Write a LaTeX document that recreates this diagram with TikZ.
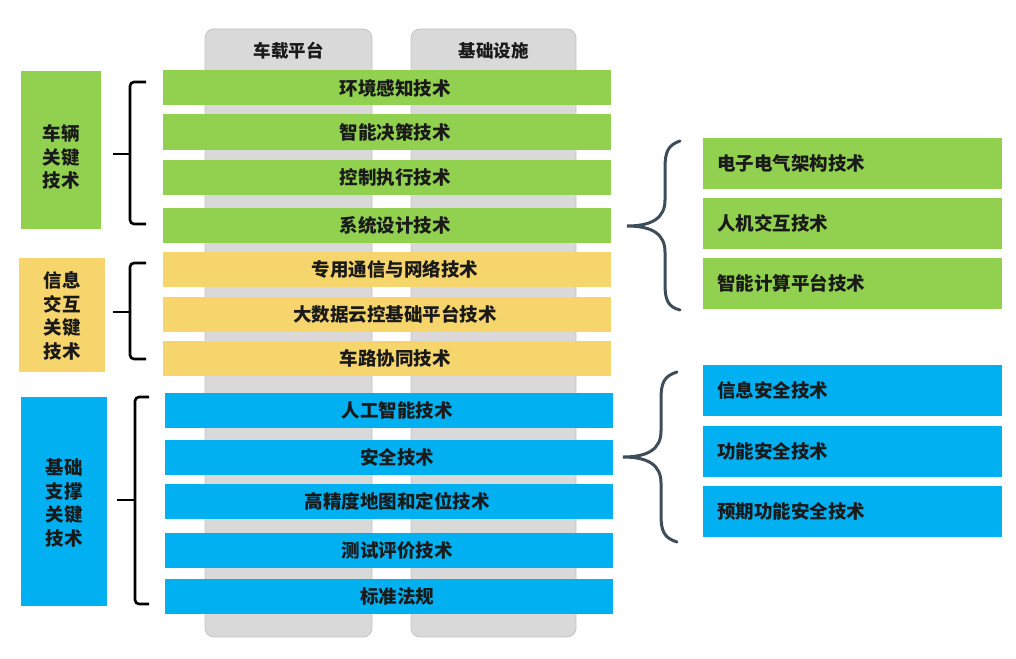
\documentclass[tikz,border=0pt]{standalone}
\usepackage{fontspec}
\setmainfont{Noto Sans CJK SC}
\begin{document}
\begin{tikzpicture}[x=1pt,y=-1pt,
  col/.style={draw=colbd,fill=colgray,rounded corners=9pt,line width=0.8pt},
  bar/.style={minimum width=448pt,minimum height=35pt,inner sep=0pt,font=\fontsize{18.5}{22}\selectfont\bfseries,text=txt,execute at begin node={\hspace*{16pt}}},
  side/.style={minimum width=299pt,minimum height=51pt,inner sep=0pt,font=\fontsize{18.5}{22}\selectfont\bfseries,text=txt},
  sidetxt/.style={anchor=west,inner sep=0pt,font=\fontsize{18.5}{22}\selectfont\bfseries,text=txt},
  lbox/.style={inner sep=0pt,font=\fontsize{18.5}{23.5}\selectfont\bfseries,text=txt,align=center},
  brk/.style={draw=black,line width=2.6pt,rounded corners=4pt},
  brace/.style={draw=bracec,line width=3pt,line cap=round}
]
\definecolor{colgray}{HTML}{D9D9D9}
\definecolor{colbd}{HTML}{C4C4C4}
\definecolor{cgreen}{HTML}{92D050}
\definecolor{cyellow}{HTML}{F6D56C}
\definecolor{cblue}{HTML}{00B0F0}
\definecolor{txt}{HTML}{1A1A1A}
\definecolor{bracec}{HTML}{3F4D5B}
\useasboundingbox (0,0) rectangle (1016,658);

% columns
\path[col] (205,29) rectangle (372,637);
\path[col] (411,29) rectangle (576,637);
\node[font=\fontsize{17.5}{20}\selectfont\bfseries,text=txt] (h1) at (288.5,51) {车载平台};
\node[font=\fontsize{17.5}{20}\selectfont\bfseries,text=txt] (h2) at (493.5,51) {基础设施};

% center bars
\node[bar,fill=cgreen] (b1) at (387,88) {环境感知技术};
\node[bar,fill=cgreen] (b2) at (387,132) {智能决策技术};
\node[bar,fill=cgreen] (b3) at (387,177.5) {控制执行技术};
\node[bar,fill=cgreen] (b4) at (387,225) {系统设计技术};
\node[bar,fill=cyellow] (b5) at (387,269.5) {专用通信与网络技术};
\node[bar,fill=cyellow] (b6) at (387,314.5) {大数据云控基础平台技术};
\node[bar,fill=cyellow] (b7) at (387,358.5) {车路协同技术};
\node[bar,fill=cblue] (b8) at (389,410) {人工智能技术};
\node[bar,fill=cblue] (b9) at (389,457.5) {安全技术};
\node[bar,fill=cblue] (b10) at (389,501.5) {高精度地图和定位技术};
\node[bar,fill=cblue] (b11) at (389,550.5) {测试评价技术};
\node[bar,fill=cblue] (b12) at (389,596) {标准法规};

% left boxes
\node[lbox,fill=cgreen,minimum width=80pt,minimum height=158pt] (L1) at (61,150) {};
\node[lbox] (L1t) at (61,157) {车辆\\关键\\技术};
\node[lbox,fill=cyellow,minimum width=86pt,minimum height=114pt] (L2) at (62,315) {};
\node[lbox] (L2t) at (62,316) {信息\\交互\\关键\\技术};
\node[lbox,fill=cblue,minimum width=86pt,minimum height=209pt] (L3) at (64,501.5) {};
\node[lbox] (L3t) at (64,503) {基础\\支撑\\关键\\技术};

% left brackets
\coordinate (k1a) at (146,82);
\coordinate (k1b) at (146,224);
\coordinate (k1m) at (113,154);
\draw[brk] (k1a) -| (130,224) -- (k1b);
\draw[brk] (k1m) -- (130,154);

\coordinate (k2a) at (146,263);
\coordinate (k2b) at (146,359);
\coordinate (k2m) at (113,312);
\draw[brk] (k2a) -| (130,359) -- (k2b);
\draw[brk] (k2m) -- (130,312);

\coordinate (k3a) at (149,397);
\coordinate (k3b) at (149,604);
\coordinate (k3m) at (117,500);
\draw[brk] (k3a) -| (135,604) -- (k3b);
\draw[brk] (k3m) -- (135,500);

% right boxes
\node[side,fill=cgreen] (r1) at (852.5,163) {};
\node[sidetxt] (r1t) at (717,163) {电子电气架构技术};
\node[side,fill=cgreen] (r2) at (852.5,223.5) {};
\node[sidetxt] (r2t) at (717,223.5) {人机交互技术};
\node[side,fill=cgreen] (r3) at (852.5,283.5) {};
\node[sidetxt] (r3t) at (717,283.5) {智能计算平台技术};

\node[side,fill=cblue] (r4) at (852.5,390.5) {};
\node[sidetxt] (r4t) at (717,390.5) {信息安全技术};
\node[side,fill=cblue] (r5) at (852.5,451) {};
\node[sidetxt] (r5t) at (717,451) {功能安全技术};
\node[side,fill=cblue] (r6) at (852.5,511.5) {};
\node[sidetxt] (r6t) at (717,511.5) {预期功能安全技术};

% right braces
\coordinate (u1) at (680,141);
\coordinate (u2) at (627,226);
\coordinate (u3) at (680,310);
\draw[brace] (u1) .. controls (668,145) and (665,152) .. (665,168)
  -- (665,200) .. controls (665,218) and (652,226) .. (u2)
  .. controls (652,226) and (665,234) .. (665,252)
  -- (665,284) .. controls (665,300) and (668,307) .. (u3);

\coordinate (w1) at (677,372);
\coordinate (w2) at (623,457);
\coordinate (w3) at (677,542);
\draw[brace] (w1) .. controls (664,376) and (661,383) .. (661,399)
  -- (661,431) .. controls (661,449) and (648,457) .. (w2)
  .. controls (648,457) and (661,465) .. (661,483)
  -- (661,515) .. controls (661,531) and (664,538) .. (w3);
\end{tikzpicture}
\end{document}
